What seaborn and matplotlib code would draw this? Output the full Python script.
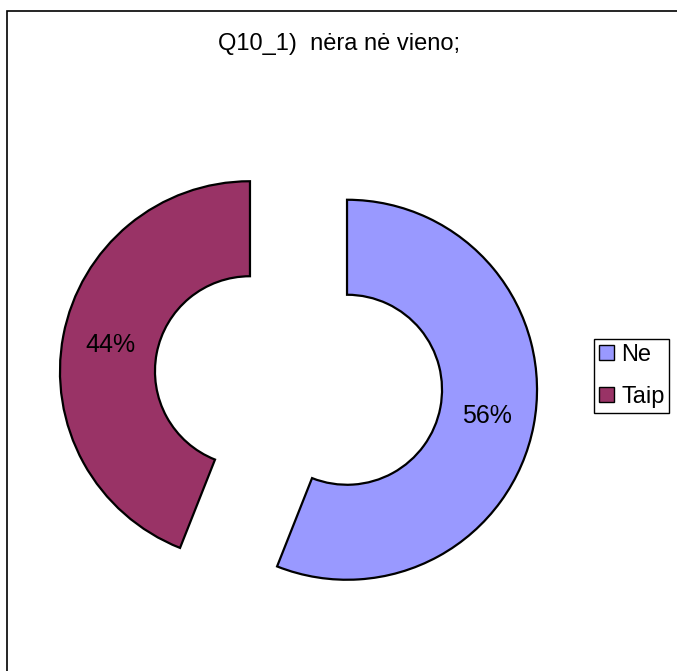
import matplotlib
matplotlib.use("Agg")
import matplotlib.pyplot as plt
from matplotlib.patches import Rectangle, Patch
import seaborn as sns

sns.set_theme(style="white")
plt.rcParams['font.family'] = ['Liberation Sans', 'DejaVu Sans']
plt.rcParams['text.color'] = 'black'

title = "Q10_1)  nėra nė vieno;"
categories = ["Ne", "Taip"]
shares = [56, 44]
colors = ["#9999FF", "#993366"]

W, H = 677, 671
fig = plt.figure(figsize=(W / 100, H / 100), dpi=100)

# outer chart frame (runs off the right and bottom edges)
fig.patches.append(Rectangle((7 / W, -0.05), 1.1, 1 - 11 / H + 0.05,
                             transform=fig.transFigure, fill=False,
                             edgecolor="black", linewidth=1.2, zorder=0))

# square axes centred on the pie, radius 1 == 190 px
cx, cy, R, half = 298.5, 380.5, 190.0, 280.0
ax = fig.add_axes([(cx - half) / W, (H - cy - half) / H, 2 * half / W, 2 * half / H])
lim = half / R

wedges, texts, autotexts = ax.pie(
    shares, colors=colors, startangle=90, counterclock=False,
    explode=[0.26, 0.26], radius=1.0, autopct="%d%%", pctdistance=0.75,
    wedgeprops=dict(width=0.5, edgecolor="black", linewidth=1.6),
    textprops=dict(fontsize=18, color="black"),
)
ax.set_xlim(-lim, lim)
ax.set_ylim(-lim, lim)
ax.set_aspect("equal")
ax.axis("off")

fig.text(339 / W, 1 - 44 / H, title, ha="center", va="center",
         fontsize=17, color="black")

handles = [Patch(facecolor=c, edgecolor="black", linewidth=1.0) for c in colors]
lg = fig.legend(handles, categories, loc="upper left",
                bbox_to_anchor=(594 / W, 1 - 339 / H), borderaxespad=0,
                fancybox=False, edgecolor="black", framealpha=1, fontsize=17,
                handlelength=0.65, handleheight=0.65, handletextpad=0.3,
                labelspacing=0.85, borderpad=0.2)
lg.get_frame().set_linewidth(1.0)

fig.savefig("out.png", dpi=100)
